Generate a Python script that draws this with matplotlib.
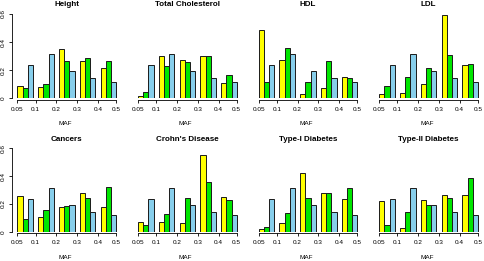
import matplotlib
matplotlib.use('Agg')
import matplotlib.pyplot as plt
import matplotlib.transforms as mtransforms
import numpy as np

plt.rcParams['font.family'] = ['Liberation Sans', 'DejaVu Sans']

maf_labels = ['0.05', '0.1', '0.2', '0.3', '0.4', '0.5']
titles = ['Height', 'Total Cholesterol', 'HDL', 'LDL',
          'Cancers', "Crohn's Disease", 'Type-I Diabetes', 'Type-II Diabetes']

# yellow and green series per trait, blue is the shared reference
yellow = [
    [0.088, 0.079, 0.350, 0.269, 0.219],
    [0.019, 0.302, 0.271, 0.302, 0.107],
    [0.485, 0.271, 0.029, 0.071, 0.150],
    [0.033, 0.038, 0.100, 0.595, 0.238],
    [0.259, 0.103, 0.180, 0.276, 0.180],
    [0.067, 0.067, 0.060, 0.552, 0.247],
    [0.017, 0.062, 0.425, 0.276, 0.233],
    [0.221, 0.029, 0.226, 0.264, 0.264],
]
green = [
    [0.071, 0.100, 0.267, 0.286, 0.267],
    [0.048, 0.233, 0.257, 0.302, 0.164],
    [0.114, 0.357, 0.114, 0.269, 0.143],
    [0.090, 0.150, 0.214, 0.307, 0.243],
    [0.089, 0.156, 0.187, 0.242, 0.319],
    [0.046, 0.127, 0.245, 0.358, 0.226],
    [0.031, 0.137, 0.240, 0.276, 0.312],
    [0.046, 0.142, 0.190, 0.240, 0.384],
]
blue = [0.236, 0.315, 0.192, 0.142, 0.117]

colors = ['#FFFF00', '#00E600', '#87CEEB']

W, H = 484, 261
fig = plt.figure(figsize=(W / 100, H / 100), dpi=100)

rows = [(98.3, 84.3), (231.7, 83.4)]  # (pixel y of zero, pixel height)
col_x = [12.3 + c * 120.6 for c in range(4)]
unit = 5.19
xmin, xmax = -1, 19.3

for k, title in enumerate(titles):
    r, c = divmod(k, 4)
    y0, h = rows[r]
    ax = fig.add_axes([col_x[c] / W, 1 - y0 / H, (xmax - xmin) * unit / W, h / H])
    g = np.arange(5) * 4
    for j, vals in enumerate([yellow[k], green[k], blue]):
        ax.bar(g + j, vals, width=1, align='edge', color=colors[j],
               edgecolor='#1a1a1a', linewidth=0.7)
    ax.set_xlim(xmin, xmax)
    ax.set_ylim(0, 0.6)
    for s in ['top', 'right']:
        ax.spines[s].set_visible(False)
    ax.spines['bottom'].set_bounds(0, 19)
    ax.spines['bottom'].set_position(('outward', 1))
    ax.spines['bottom'].set_linewidth(0.6)
    ax.set_xticks([0, 3.5, 7.5, 11.5, 15.5, 19])
    ax.set_xticklabels(maf_labels)
    ax.tick_params(axis='x', length=2.5, width=0.6, labelsize=4.6, pad=2.5)
    ax.set_xlabel('MAF', fontsize=4.6, labelpad=7)
    if c == 0:
        ax.spines['left'].set_bounds(0, 0.6)
        ax.spines['left'].set_linewidth(0.6)
        ax.set_yticks([0, 0.2, 0.4, 0.6])
        ax.set_yticklabels(['0', '0.2', '0.4', '0.6'], rotation=90, va='center')
        ax.tick_params(axis='y', length=2.5, width=0.6, labelsize=4.6, pad=2)
    else:
        ax.spines['left'].set_visible(False)
        ax.set_yticks([])
    trans = mtransforms.blended_transform_factory(ax.transData, ax.transAxes)
    ax.text(9.5, 1.0 + 9 / h, title, transform=trans, ha='center', va='center',
            fontsize=5.8, fontweight='bold')

fig.savefig('out.png', dpi=100)
